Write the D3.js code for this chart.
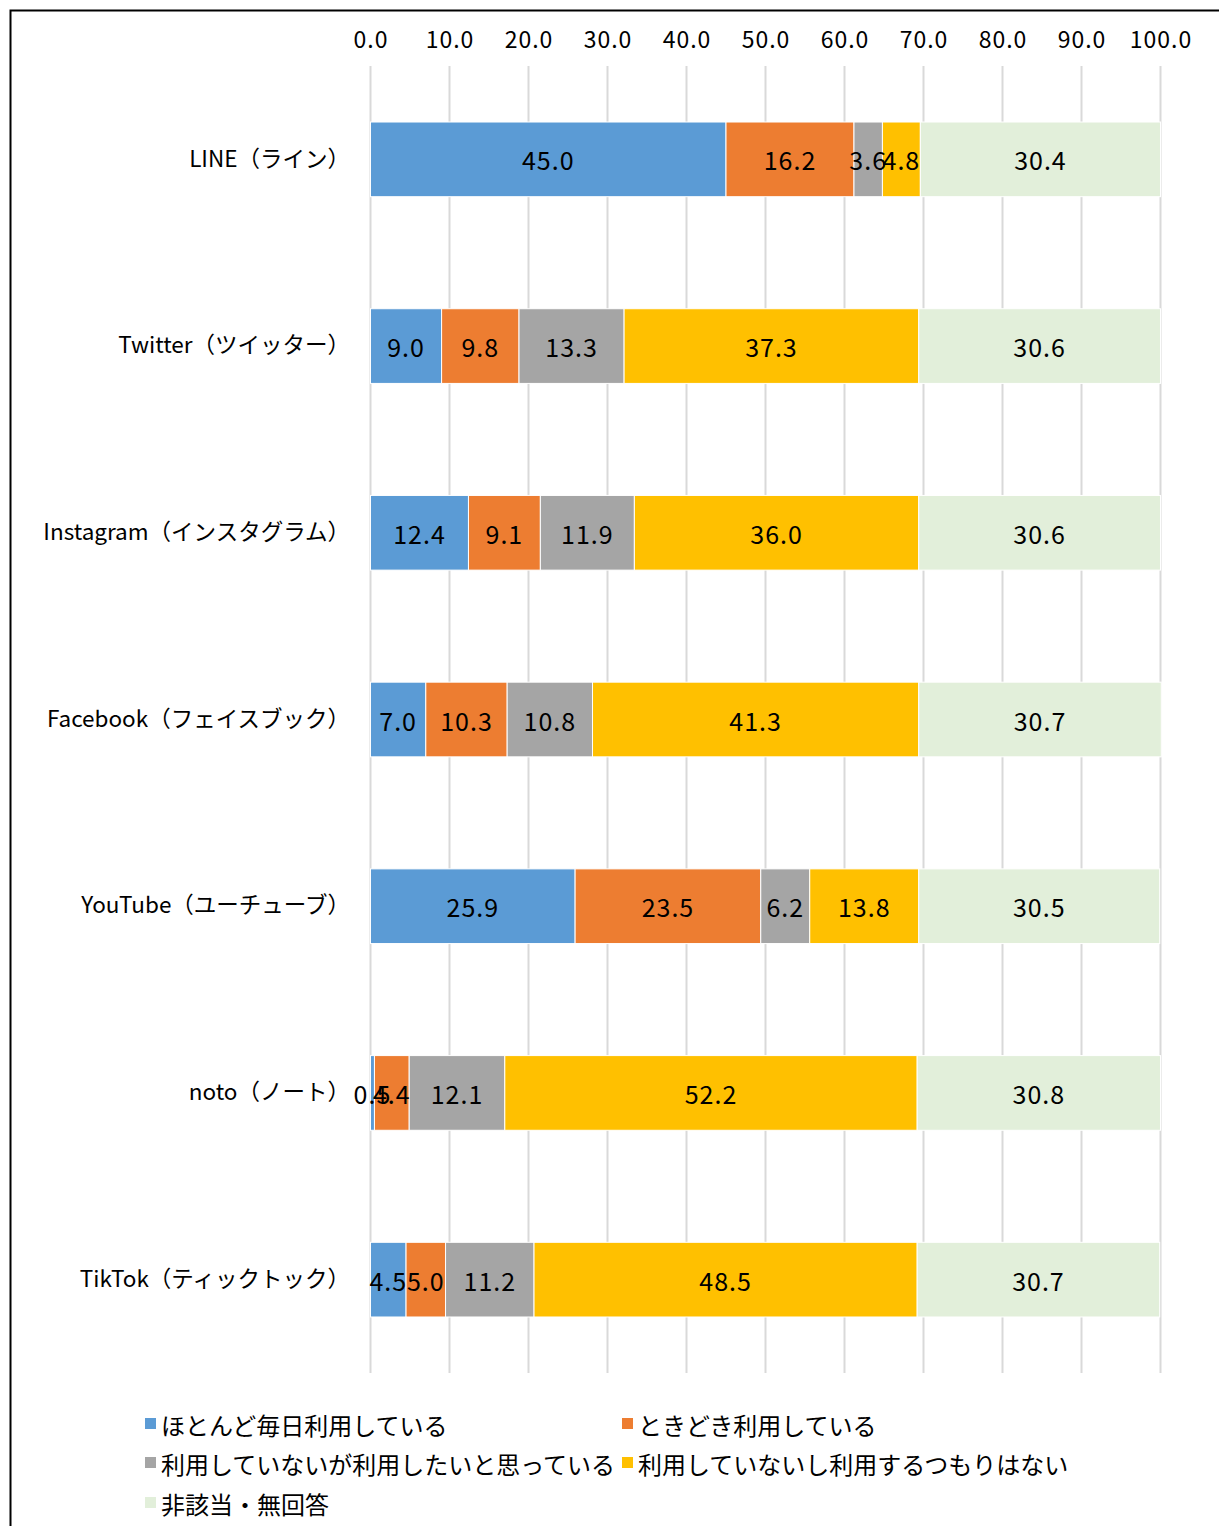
<!DOCTYPE html>
<html><head><meta charset="utf-8">
<script src="https://cdn.jsdelivr.net/npm/d3@7"></script>
<style>body{margin:0;background:#fff;} svg{display:block;}</style>
</head><body>
<svg id="chart" width="1219" height="1526"></svg>
<script>
const categories = ["LINE（ライン）","Twitter（ツイッター）","Instagram（インスタグラム）","Facebook（フェイスブック）","YouTube（ユーチューブ）","noto（ノート）","TikTok（ティックトック）"];
const seriesNames = ["ほとんど毎日利用している","ときどき利用している","利用していないが利用したいと思っている","利用していないし利用するつもりはない","非該当・無回答"];
const daily     = [45.0, 9.0, 12.4, 7.0, 25.9, 0.5, 4.5];
const sometimes = [16.2, 9.8, 9.1, 10.3, 23.5, 4.4, 5.0];
const wantTo    = [3.6, 13.3, 11.9, 10.8, 6.2, 12.1, 11.2];
const noIntent  = [4.8, 37.3, 36.0, 41.3, 13.8, 52.2, 48.5];
const na        = [30.4, 30.6, 30.6, 30.7, 30.5, 30.8, 30.7];
const tickValues = [0,10,20,30,40,50,60,70,80,90,100];
const colors = ["#5B9BD5","#ED7D31","#A5A5A5","#FFC000","#E2EFDA"];

const series = [daily, sometimes, wantTo, noIntent, na];
const rows = categories.map((c,i)=>{const o={cat:c}; seriesNames.forEach((s,j)=>o[s]=series[j][i]); return o;});
const stack = d3.stack().keys(seriesNames)(rows);

const svg = d3.select("#chart");
const font = "'Noto Sans CJK JP', sans-serif";

// border
svg.append("rect").attr("x",10.5).attr("y",10.5).attr("width",1240).attr("height",1540)
  .attr("fill","none").attr("stroke","#000").attr("stroke-width",2);

const x = d3.scaleLinear().domain([0,100]).range([370.5,1160.5]);
const y = d3.scaleBand().domain(categories).range([66,1373]).paddingInner(0.6).paddingOuter(0.3);

// gridlines
svg.append("g").selectAll("line").data(tickValues).join("line")
  .attr("x1",d=>x(d)).attr("x2",d=>x(d)).attr("y1",66).attr("y2",1373)
  .attr("stroke","#D9D9D9").attr("stroke-width",2);

// top axis labels
const ax = svg.append("g").attr("transform","translate(0,48)")
  .call(d3.axisTop(x).tickValues(tickValues).tickFormat(d3.format(".1f")).tickSize(0).tickPadding(0));
ax.select(".domain").remove();
ax.selectAll("text").attr("font-family",font).attr("font-size",23).attr("letter-spacing",1).attr("fill","#000").attr("dy",0);

// bars
const g = svg.append("g");
stack.forEach((s,j)=>{
  g.append("g").selectAll("rect").data(s).join("rect")
    .attr("x",d=>x(d[0])).attr("width",d=>x(d[1])-x(d[0]))
    .attr("y",d=>y(d.data.cat)).attr("height",y.bandwidth())
    .attr("fill",colors[j]).attr("stroke","#fff").attr("stroke-width",1);
});
// bar labels
stack.forEach((s,j)=>{
  g.append("g").selectAll("text").data(s).join("text")
    .attr("x",d=>(x(d[0])+x(d[1]))/2).attr("y",d=>y(d.data.cat)+y.bandwidth()/2)
    .attr("text-anchor","middle").attr("dominant-baseline","central")
    .attr("font-family",font).attr("font-size",25).attr("letter-spacing",1).attr("fill","#000")
    .text(d=>d3.format(".1f")(d[1]-d[0]));
});

// category labels
const yAx = svg.append("g").attr("transform","translate(350,0)")
  .call(d3.axisLeft(y).tickSize(0).tickPadding(0));
yAx.select(".domain").remove();
yAx.selectAll("text").attr("font-family",font).attr("font-size",22.5).attr("fill","#000");

// legend
const legPos = [[145,1424],[622,1424],[145,1463],[622,1463],[145,1503]];
const leg = svg.append("g");
seriesNames.forEach((n,i)=>{
  const [lx,ly]=legPos[i];
  leg.append("rect").attr("x",lx).attr("y",ly-6).attr("width",11).attr("height",11).attr("fill",colors[i]);
  leg.append("text").attr("x",lx+16).attr("y",ly).attr("dominant-baseline","central")
    .attr("font-family",font).attr("font-size",24).attr("fill","#000").text(n);
});
</script>
</body></html>
